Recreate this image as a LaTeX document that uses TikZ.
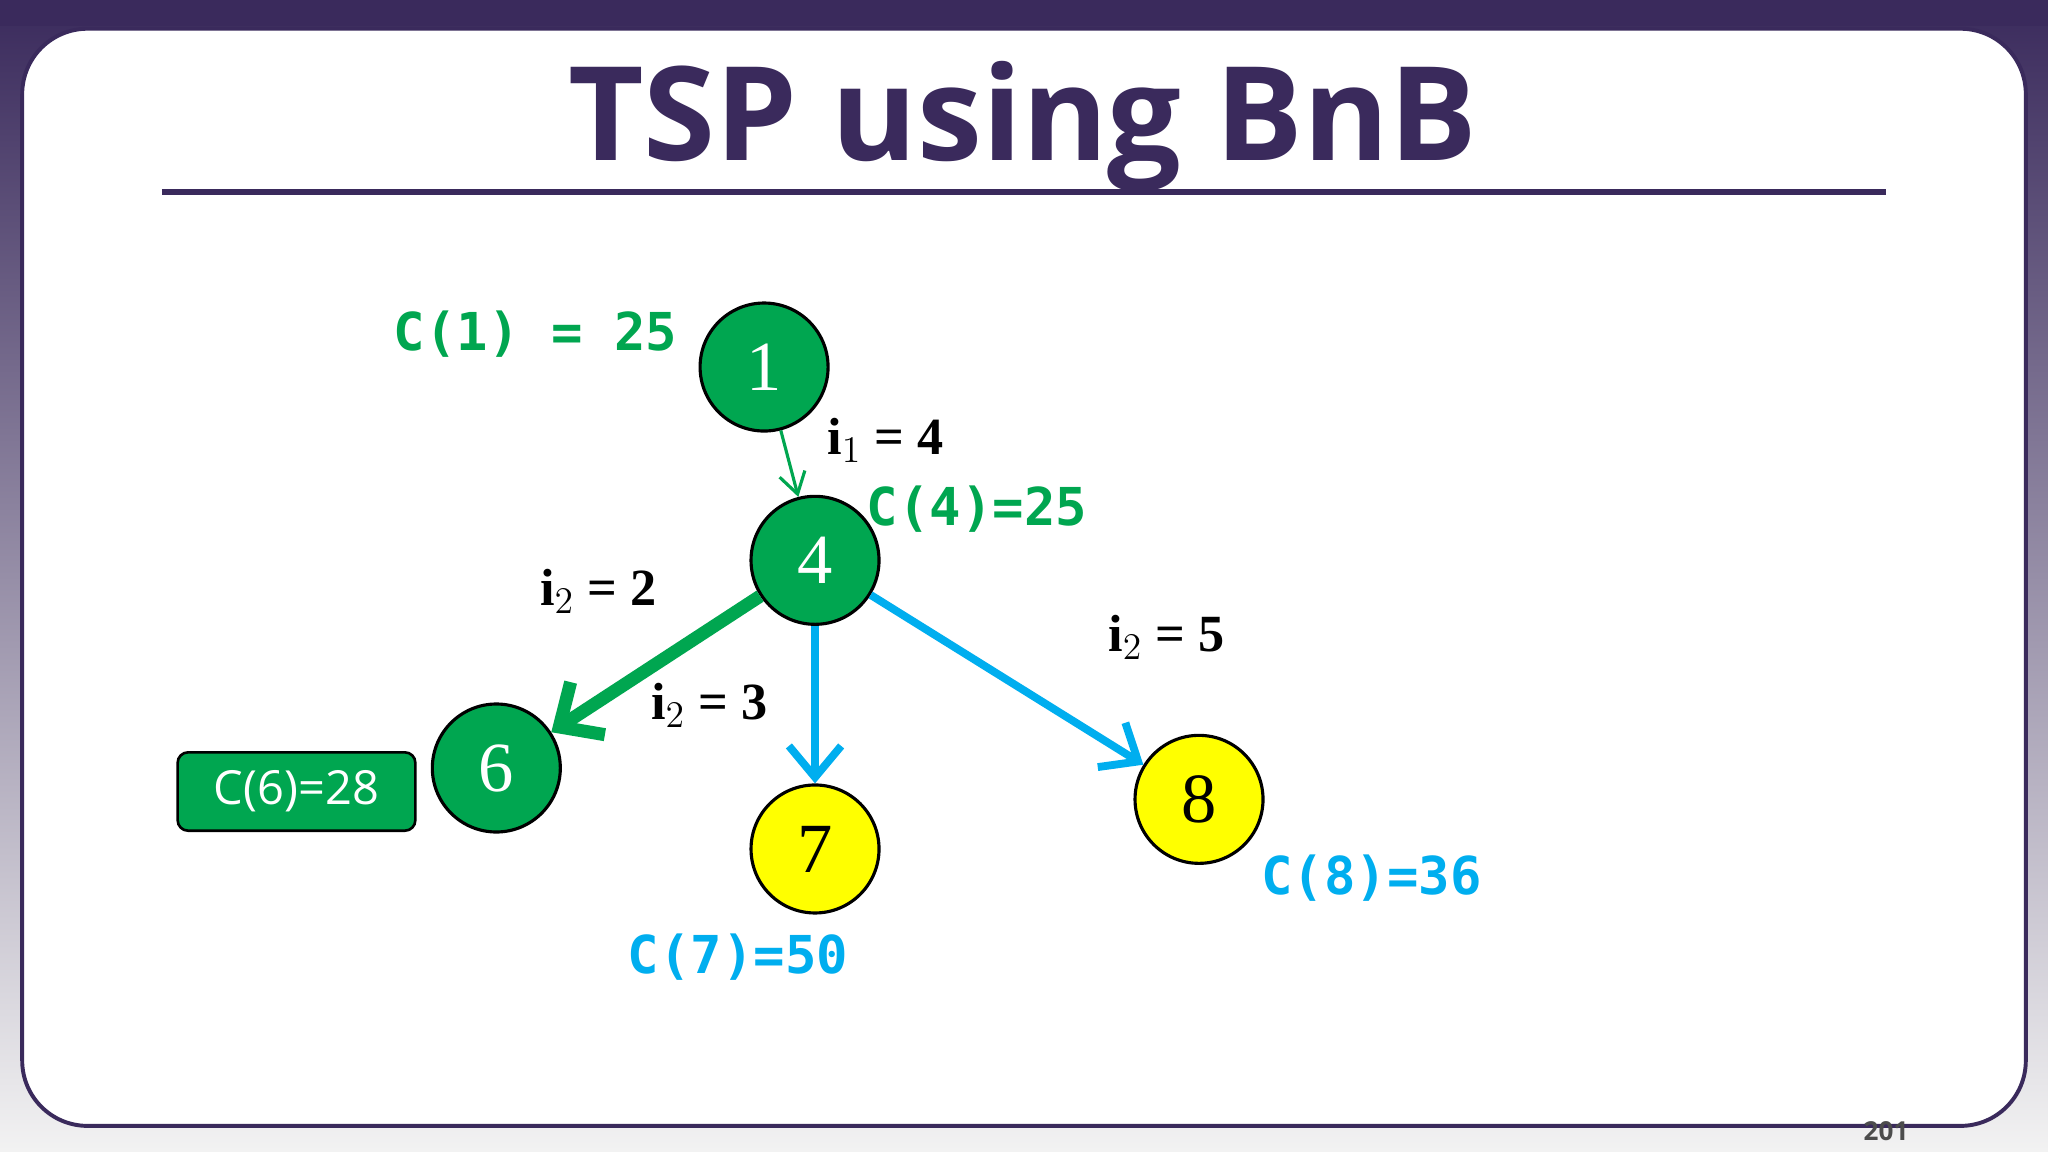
\documentclass[tikz,border=0pt]{standalone}
\usepackage{fontspec}
\setmainfont{Liberation Serif}
\setsansfont{Open Sans}
\setmonofont{DejaVu Sans Mono}
\usetikzlibrary{arrows.meta}
\definecolor{ttl}{HTML}{3A2A5C}
\definecolor{grn}{HTML}{00A650}
\definecolor{blu}{HTML}{00AEEF}
\definecolor{yel}{HTML}{FFFF00}
\begin{document}
\begin{tikzpicture}[x=0.5pt,y=-0.5pt,
  nd/.style={circle,draw=black,line width=1.2pt,minimum size=49pt,inner sep=0pt,font=\fontsize{27}{27}\selectfont},
  gnode/.style={nd,fill=grn,text=white},
  ynode/.style={nd,fill=yel,text=black},
  ilab/.style={font=\bfseries\fontsize{20}{22}\selectfont},
  clab/.style={font=\ttfamily\bfseries\fontsize{20}{22}\selectfont}]
\useasboundingbox (0,0) rectangle (1568,882);
\shade[top color=ttl,bottom color=white!95!black] (0,0) rectangle (1568,882);
\fill[ttl] (0,0) rectangle (1568,20);
\draw[fill=white,draw=ttl,line width=1.5pt,rounded corners=25pt] (17,22) rectangle (1551,862);
\node[text=ttl,font=\sffamily\bfseries\fontsize{50}{50}\selectfont] (title) at (783,97) {TSP using BnB};
\draw[ttl,line width=2pt] (124,147) coordinate (l1) -- (1444,147) coordinate (l2);
\node[gnode] (n1) at (585,281) {1};
\node[gnode] (n4) at (624,429) {4};
\node[gnode] (n6) at (380,588) {6};
\node[ynode] (n7) at (624,650) {7};
\node[ynode] (n8) at (918,612) {8};
\draw[grn,line width=1.2pt,-{Straight Barb[length=8pt,width=10pt]}] (n1) -- (n4);
\draw[grn,line width=5pt,-{Straight Barb[length=13pt,width=24pt]}] (n4) -- (n6);
\draw[blu,line width=3pt,-{Straight Barb[length=12pt,width=20pt]}] (n4) -- (n7);
\draw[blu,line width=3pt,-{Straight Barb[length=12pt,width=20pt]}] (n4) -- (n8);
\node[clab,text=grn] (c1) at (410,256) {C(1) = 25};
\node[clab,text=grn] (c4) at (748,390) {C(4)=25};
\node[ilab] (i1) at (678,337) {i$_1$ = 4};
\node[ilab] (i2a) at (458,453) {i$_2$ = 2};
\node[ilab] (i2b) at (543,540) {i$_2$ = 3};
\node[ilab] (i2c) at (893,488) {i$_2$ = 5};
\node[draw=black,line width=1pt,fill=grn,text=white,rounded corners=4pt,minimum width=91pt,minimum height=30pt,font=\sffamily\fontsize{18}{18}\selectfont] (c6) at (227,606) {C(6)=28};
\node[clab,text=blu] (c7) at (565,733) {C(7)=50};
\node[clab,text=blu] (c8) at (1050,672) {C(8)=36};
\node[font=\sffamily\bfseries\fontsize{10}{10}\selectfont,text=black!70] (pg) at (1444,866) {201};
\end{tikzpicture}
\end{document}
